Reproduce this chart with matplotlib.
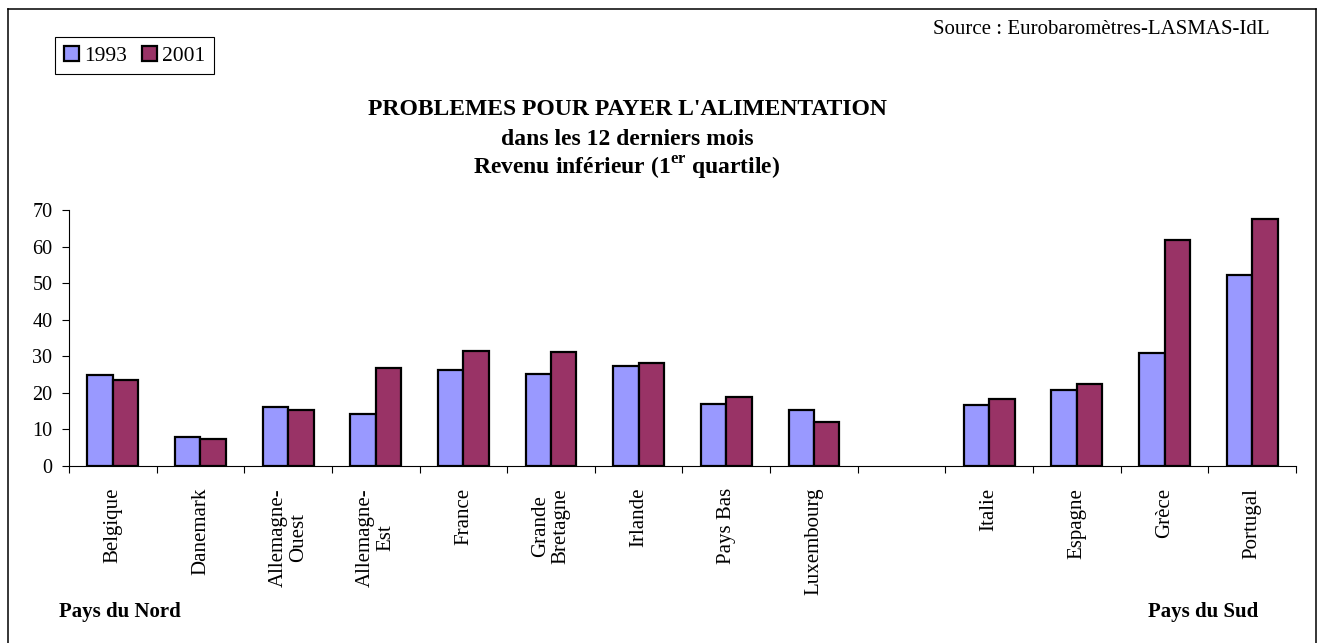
import numpy as np
import matplotlib.pyplot as plt
from matplotlib.lines import Line2D

# categories (empty slot separates the north and south groups)
categories = ["Belgique", "Danemark", "Allemagne-\nOuest", "Allemagne-\nEst", "France",
              "Grande\nBretagne", "Irlande", "Pays Bas", "Luxembourg", "",
              "Italie", "Espagne", "Grèce", "Portugal"]
values_1993 = [24.9, 7.8, 16.1, 14.3, 26.1, 25.0, 27.2, 16.8, 15.2, np.nan,
               16.7, 20.7, 30.9, 52.4]
values_2001 = [23.6, 7.3, 15.2, 26.7, 31.3, 31.2, 28.1, 18.9, 11.9, np.nan,
               18.2, 22.5, 61.8, 67.6]
series_labels = ["1993", "2001"]
yticks = [0, 10, 20, 30, 40, 50, 60, 70]

W, H = 1319, 643
plt.rcParams["font.family"] = ["Liberation Serif", "DejaVu Serif"]
plt.rcParams["mathtext.fontset"] = "custom"
plt.rcParams["mathtext.rm"] = "Liberation Serif"
plt.rcParams["mathtext.bf"] = "Liberation Serif:bold"


def fx(px):
    return px / W


def fy(py):
    return 1 - py / H


fig = plt.figure(figsize=(W / 100, H / 100), dpi=100)
ax = fig.add_axes([fx(69), fy(465.7), fx(1296) - fx(69), fy(210.3) - fy(465.7)])

x = np.arange(len(categories))
bw = 0.29
b1 = ax.bar(x - bw / 2, values_1993, bw, color="#9999FF", edgecolor="black", linewidth=1.6,
            label=series_labels[0])
b2 = ax.bar(x + bw / 2, values_2001, bw, color="#993366", edgecolor="black", linewidth=1.6,
            label=series_labels[1])

ax.set_xlim(-0.5, len(categories) - 0.5)
ax.set_ylim(0, 70)
ax.set_yticks(yticks)
ax.tick_params(axis="y", length=5, width=0.8, pad=7, labelsize=14.5, direction="out")
ax.set_xticks(x)
ax.set_xticklabels(categories, rotation=90, ha="center", va="top", fontsize=15,
                   linespacing=1.1)
ax.tick_params(axis="x", which="major", length=0, pad=16)
ax.set_xticks(np.arange(len(categories) + 1) - 0.5, minor=True)
ax.tick_params(axis="x", which="minor", length=5, width=0.8, direction="out")
for s in ["top", "right"]:
    ax.spines[s].set_visible(False)
for s in ["left", "bottom"]:
    ax.spines[s].set_linewidth(0.8)

# titles
fig.text(fx(627), fy(115), "PROBLEMES POUR PAYER L'ALIMENTATION", ha="center", va="baseline",
         fontsize=17, fontweight="bold")
fig.text(fx(627), fy(145), "dans les 12 derniers mois", ha="center", va="baseline",
         fontsize=17, fontweight="bold")
fig.text(fx(627), fy(175), r"Revenu inférieur (1$^{\mathbf{er}}$ quartile)", ha="center",
         va="baseline", fontsize=17, fontweight="bold")

fig.text(fx(1270), fy(30), "Source : Eurobaromètres-LASMAS-IdL", ha="right", va="center",
         fontsize=15)
fig.text(fx(59), fy(612), "Pays du Nord", ha="left", va="center", fontsize=15, fontweight="bold")
fig.text(fx(1258), fy(612), "Pays du Sud", ha="right", va="center", fontsize=15, fontweight="bold")

leg = fig.legend(handles=[b1, b2], loc="upper left", bbox_to_anchor=(fx(55), fy(37)),
                 borderaxespad=0, ncol=2, fontsize=15.5, fancybox=False, framealpha=1,
                 edgecolor="black", handlelength=0.7, handleheight=0.7,
                 handletextpad=0.25, columnspacing=0.7, borderpad=0.4)
leg.get_frame().set_linewidth(0.8)

# outer frame
for xs, ys in [([8.3, 8.3], [H, 9.3]), ([8.3, 1316], [9.3, 9.3]), ([1316, 1316], [9.3, H])]:
    fig.add_artist(Line2D([fx(v) for v in xs], [fy(v) for v in ys], color="black", lw=1.1))

fig.savefig("out.png", dpi=100)
